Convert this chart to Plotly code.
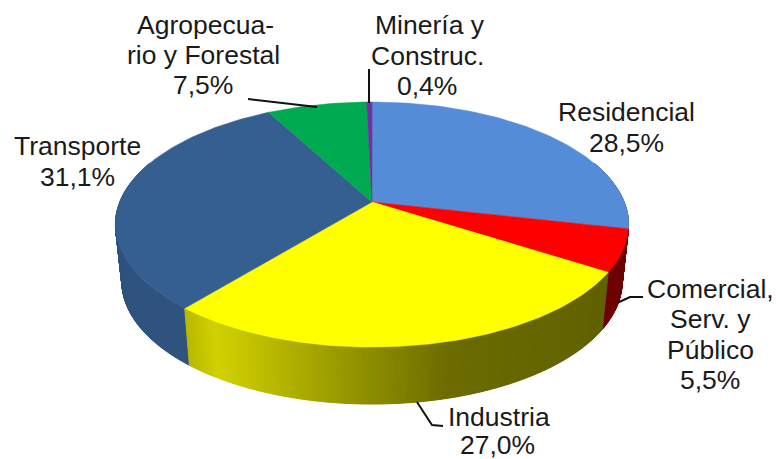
"""3D style energy share pie, drawn as projected wedges on a pixel-sized plot."""

import numpy as np
import plotly.graph_objects as go

# Data
SECTORS = ["Residencial", "Comercial, Serv. y Público", "Industria", "Transporte",
           "Agropecuario y Forestal", "Minería y Construc."]
SHARES = [28.5, 5.5, 27.0, 31.1, 7.5, 0.4]
TOP_COLORS = [(85, 140, 215), (255, 0, 0), (255, 255, 0), (54, 95, 145), (0, 170, 80), (112, 48, 160)]
WALL_SHADE = [0.8, 0.43, None, 0.87, 0.8, 0.8]

LABEL_TEXT = ["Residencial", "28,5%", "Comercial,", "Serv. y", "Público", "5,5%",
              "Industria", "27,0%", "Transporte", "31,1%",
              "Agropecua-", "rio y Forestal", "7,5%", "Minería y", "Construc.", "0,4%"]
LABEL_X = [626, 626, 710, 710, 710, 710, 499, 497, 77, 77, 205, 203, 203, 430, 427, 427]
LABEL_Y = [112, 143, 289, 319, 350, 380, 417, 445, 146, 177, 25, 55, 85, 25, 56, 86]

LEADER_X = [[248, 317], [369, 369], [617, 630, 643], [417, 432, 443]]
LEADER_Y = [[99, 107], [69, 103], [303, 297, 297], [402, 425, 426]]

# yellow wall gets a horizontal gradient
GRAD_X = [185, 215, 250, 340, 450, 600]
GRAD_SHADE = [0.72, 0.82, 0.76, 0.6, 0.42, 0.38]

# Projection of the pie disc
CX, CY = 372, 202
A, B, K = 118.4, 252.2, -0.1837
DEPTH = 57
BOTTOM_X = 0.975
STEP = 0.5


def rim(deg, bottom=False):
    """Project an angle (clockwise from 12 o'clock) onto the disc rim."""
    a = np.radians(deg)
    u, v = np.sin(a), -np.cos(a)
    d = 1 + K * v
    if bottom:
        return CX + BOTTOM_X * B * u / d, CY + DEPTH + A * v / d
    return CX + B * u / d, CY + A * v / d


def rgb(c, f=1.0):
    return "rgb({},{},{})".format(*[int(round(x * f)) for x in c])


def poly(xs, ys, color, width=0.0):
    return go.Scatter(
        x=xs, y=ys, mode="lines", fill="toself", fillcolor=color,
        line=dict(width=width, color=color), hoverinfo="skip", showlegend=False,
    )


fig = go.Figure()
edges = np.concatenate([[0], np.cumsum(SHARES) * 3.6])

# side walls first, back to front
strips = []
for i, (start, end) in enumerate(zip(edges[:-1], edges[1:])):
    for a0 in np.arange(start, end, STEP):
        a1 = min(a0 + STEP, end)
        mid = (a0 + a1) / 2
        if -np.cos(np.radians(mid)) < -0.35:
            continue
        strips.append((-np.cos(np.radians(mid)), i, a0, a1))

for _, i, a0, a1 in sorted(strips):
    x0, y0 = rim(a0)
    x1, y1 = rim(a1)
    x2, y2 = rim(a1, True)
    x3, y3 = rim(a0, True)
    shade = WALL_SHADE[i]
    if shade is None:
        shade = np.interp((x0 + x1) / 2, GRAD_X, GRAD_SHADE)
    fig.add_trace(poly([x0, x1, x2, x3, x0], [y0, y1, y2, y3, y0], rgb(TOP_COLORS[i], shade), 1.0))

# top wedges
for i, (start, end) in enumerate(zip(edges[:-1], edges[1:])):
    arc = np.linspace(start, end, max(int(end - start) + 2, 3))
    ax, ay = rim(arc)
    fig.add_trace(poly([CX, *ax, CX], [CY, *ay, CY], rgb(TOP_COLORS[i]), 0.5))

# leader lines
for lx, ly in zip(LEADER_X, LEADER_Y):
    fig.add_trace(go.Scatter(x=lx, y=ly, mode="lines", line=dict(color="#111111", width=2),
                             hoverinfo="skip", showlegend=False))

for text, x, y in zip(LABEL_TEXT, LABEL_X, LABEL_Y):
    fig.add_annotation(x=x, y=y, text=text, showarrow=False, xanchor="center", yanchor="middle",
                       font=dict(family="Liberation Sans, Arial, sans-serif", size=26.5, color="#1a1a1a"))

fig.update_layout(
    width=776, height=459, margin=dict(l=0, r=0, t=0, b=0),
    paper_bgcolor="white", plot_bgcolor="white", showlegend=False,
    xaxis=dict(range=[0, 776], visible=False, fixedrange=True),
    yaxis=dict(range=[459, 0], visible=False, fixedrange=True),
)

fig.write_html(
    "out.html", config=dict(displayModeBar=False),
    post_script="document.body.style.margin='0';document.body.style.overflow='hidden';",
)
